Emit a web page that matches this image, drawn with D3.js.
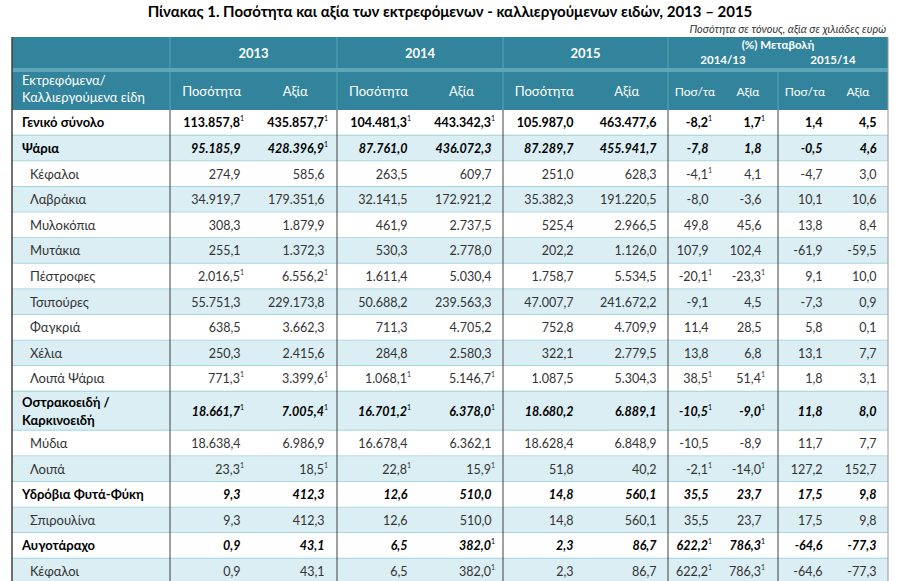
<!DOCTYPE html>
<html><head><meta charset="utf-8">
<script src="https://cdn.jsdelivr.net/npm/d3@7"></script>
<style>body{margin:0;background:#fff}text{font-family:Lato,"Open Sans",sans-serif}</style>
</head><body><svg id="c" width="901" height="581"></svg>
<script>
const title = "Πίνακας 1. Ποσότητα και αξία των εκτρεφόμενων - καλλιεργούμενων ειδών, 2013 – 2015";
const unitNote = "Ποσότητα σε τόνους, αξία σε χιλιάδες ευρώ";
const years = ["2013","2014","2015"];
const subHeads = ["Ποσότητα","Αξία"];
const changeHeads = ["2014/13","2015/14"];
const changeSub = ["Ποσ/τα","Αξία"];
const categories = ["Γενικό σύνολο","Ψάρια","Κέφαλοι","Λαβράκια","Μυλοκόπια","Μυτάκια","Πέστροφες","Τσιπούρες","Φαγκριά","Χέλια","Λοιπά Ψάρια","Οστρακοειδή /|Καρκινοειδή","Μύδια","Λοιπά","Υδρόβια Φυτά-Φύκη","Σπιρουλίνα","Αυγοτάραχο","Κέφαλοι"];
// level: 0 total, 1 group, 2 item
const levels = [0,1,2,2,2,2,2,2,2,2,2,1,2,2,1,2,1,2];
// "*" marks footnote 1
const q2013 = ["113.857,8*","95.185,9","274,9","34.919,7","308,3","255,1","2.016,5*","55.751,3","638,5","250,3","771,3*","18.661,7*","18.638,4","23,3*","9,3","9,3","0,9","0,9"];
const v2013 = ["435.857,7*","428.396,9*","585,6","179.351,6","1.879,9","1.372,3","6.556,2*","229.173,8","3.662,3","2.415,6","3.399,6*","7.005,4*","6.986,9","18,5*","412,3","412,3","43,1","43,1"];
const q2014 = ["104.481,3*","87.761,0","263,5","32.141,5","461,9","530,3","1.611,4","50.688,2","711,3","284,8","1.068,1*","16.701,2*","16.678,4","22,8*","12,6","12,6","6,5","6,5"];
const v2014 = ["443.342,3*","436.072,3","609,7","172.921,2","2.737,5","2.778,0","5.030,4","239.563,3","4.705,2","2.580,3","5.146,7*","6.378,0*","6.362,1","15,9*","510,0","510,0","382,0*","382,0*"];
const q2015 = ["105.987,0","87.289,7","251,0","35.382,3","525,4","202,2","1.758,7","47.007,7","752,8","322,1","1.087,5","18.680,2","18.628,4","51,8","14,8","14,8","2,3","2,3"];
const v2015 = ["463.477,6","455.941,7","628,3","191.220,5","2.966,5","1.126,0","5.534,5","241.672,2","4.709,9","2.779,5","5.304,3","6.889,1","6.848,9","40,2","560,1","560,1","86,7","86,7"];
const c1413q = ["-8,2*","-7,8","-4,1*","-8,0","49,8","107,9","-20,1*","-9,1","11,4","13,8","38,5*","-10,5*","-10,5","-2,1*","35,5","35,5","622,2*","622,2*"];
const c1413v = ["1,7*","1,8","4,1","-3,6","45,6","102,4","-23,3*","4,5","28,5","6,8","51,4*","-9,0*","-8,9","-14,0*","23,7","23,7","786,3*","786,3*"];
const c1514q = ["1,4","-0,5","-4,7","10,1","13,8","-61,9","9,1","-7,3","5,8","13,1","1,8","11,8","11,7","127,2","17,5","17,5","-64,6","-64,6"];
const c1514v = ["4,5","4,6","3,0","10,6","8,4","-59,5","10,0","0,9","0,1","7,7","3,1","8,0","7,7","152,7","9,8","9,8","-77,3","-77,3"];

const cols = [q2013,v2013,q2014,v2014,q2015,v2015,c1413q,c1413v,c1514q,c1514v];
const svg = d3.select("#c");
const head="#31849b", light="#daeef3", line="#92cddc", dark="#404040";
const L=12,R=888;
const bounds=[12,170,337,503,668,778,888];
const textRight=[244,328,411,495,577,660,712,765,826,880];

svg.append("text").attr("x",450).attr("y",17).attr("text-anchor","middle").attr("font-weight","bold").attr("font-size",15).text(title);
svg.append("text").attr("x",886).attr("y",33).attr("text-anchor","end").attr("font-style","italic").attr("font-size",11).attr("fill","#333").text(unitNote);

// header
svg.append("rect").attr("x",L).attr("y",37).attr("width",R-L).attr("height",73).attr("fill",head);
svg.append("rect").attr("x",L).attr("y",68).attr("width",R-L).attr("height",4).attr("fill","#5ea5b8");
years.forEach((yr,i)=>{
  const a=bounds[i+1],b=bounds[i+2];
  svg.append("text").attr("x",(a+b)/2).attr("y",58).attr("text-anchor","middle").attr("fill","#fff").attr("font-weight","bold").attr("font-size",13).text(yr);
  subHeads.forEach((s,j)=>{
    const m=(a+b)/2, cx=j==0?(a+m)/2:(m+b)/2;
    svg.append("text").attr("x",cx).attr("y",96).attr("text-anchor","middle").attr("fill","#fff").attr("font-size",13).text(s);
  });
});
svg.append("text").attr("x",(668+888)/2).attr("y",49).attr("text-anchor","middle").attr("fill","#fff").attr("font-weight","bold").attr("font-size",11.5).text("(%) Μεταβολή");
changeHeads.forEach((s,i)=>{
  const a=bounds[4+i],b=bounds[5+i];
  svg.append("text").attr("x",(a+b)/2).attr("y",64).attr("text-anchor","middle").attr("fill","#fff").attr("font-weight","bold").attr("font-size",11.5).text(s);
  changeSub.forEach((t,j)=>{
    svg.append("text").attr("x",j==0?a+27:a+80).attr("y",96).attr("text-anchor","middle").attr("fill","#fff").attr("font-size",12).text(t);
  });
});
svg.append("text").attr("x",22).attr("y",85).attr("fill","#fff").attr("font-size",13).text("Εκτρεφόμενα/");
svg.append("text").attr("x",22).attr("y",102).attr("fill","#fff").attr("font-size",13).text("Καλλιεργούμενα είδη");
[170,337,503,668].forEach(bx=>svg.append("line").attr("x1",bx).attr("x2",bx).attr("y1",37).attr("y2",110).attr("stroke","#5ea5b8"));
svg.append("line").attr("x1",778).attr("x2",778).attr("y1",72).attr("y2",110).attr("stroke","#5ea5b8");

// rows
const heights = categories.map(c=>c.includes("|")?39:25.6);
let ys=[],yy=110;
heights.forEach(h=>{ys.push(yy);yy+=h;});
const g=svg.append("g");
categories.forEach((c,i)=>{
  const y0=ys[i],h=heights[i],cy=y0+h/2+4.5;
  g.append("rect").attr("x",L).attr("y",y0).attr("width",R-L).attr("height",h).attr("fill",i%2?light:"#fff");
  g.append("line").attr("x1",L).attr("x2",R).attr("y1",y0+h).attr("y2",y0+h).attr("stroke",line).attr("stroke-width",1.5);
  const lv=levels[i];
  const parts=c.split("|");
  parts.forEach((p,k)=>{
    g.append("text").attr("x",lv==2?30:22).attr("y",parts.length>1?y0+15+k*18:cy)
     .attr("font-size",13).attr("font-weight",lv<2?"bold":"normal").attr("fill",lv<2?"#000":"#333").text(p);
  });
  cols.forEach((arr,j)=>{
    const v=arr[i], sup=v.endsWith("*"), s=v.replace("*","");
    const t=g.append("text").attr("x",textRight[j]).attr("y",cy).attr("text-anchor","end").attr("font-size",12.5)
      .attr("font-weight",lv<2?"bold":"normal").attr("font-style",lv==1?"italic":"normal").attr("fill",lv<2?"#000":"#333");
    t.append("tspan").text(s);
    t.append("tspan").attr("font-size",7).attr("dy",-6).attr("font-style","normal").attr("font-weight","normal").text(sup?"1":"\u2002");
  });
});
bounds.forEach((bx,k)=>svg.append("line").attr("x1",bx).attr("x2",bx).attr("y1",k==0||k==6?37:110).attr("y2",581).attr("stroke",k==6?"#999":dark).attr("stroke-width",k==0?1.5:1));
</script></body></html>
